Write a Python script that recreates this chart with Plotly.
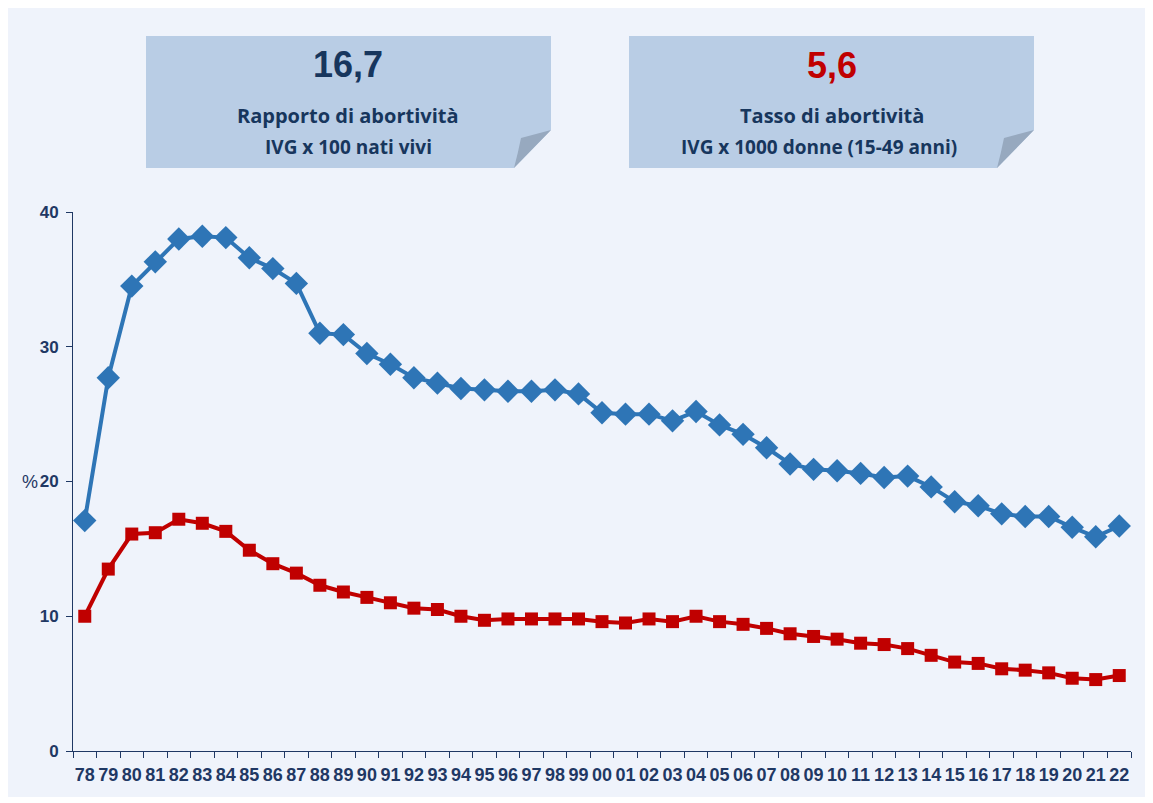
import plotly.graph_objects as go

years = ["78","79","80","81","82","83","84","85","86","87","88","89","90","91","92","93","94","95","96","97","98","99",
         "00","01","02","03","04","05","06","07","08","09","10","11","12","13","14","15","16","17","18","19","20","21","22"]
rapporto = [17.1, 27.7, 34.5, 36.3, 38.0, 38.2, 38.1, 36.6, 35.8, 34.7, 31.0, 30.9, 29.5, 28.7, 27.7, 27.3, 26.9, 26.8,
            26.7, 26.7, 26.8, 26.5, 25.1, 25.0, 25.0, 24.5, 25.2, 24.2, 23.5, 22.5, 21.3, 20.9, 20.8, 20.6, 20.3, 20.4,
            19.6, 18.5, 18.2, 17.6, 17.4, 17.4, 16.6, 15.9, 16.7]
tasso = [10.0, 13.5, 16.1, 16.2, 17.2, 16.9, 16.3, 14.9, 13.9, 13.2, 12.3, 11.8, 11.4, 11.0, 10.6, 10.5, 10.0, 9.7,
         9.8, 9.8, 9.8, 9.8, 9.6, 9.5, 9.8, 9.6, 10.0, 9.6, 9.4, 9.1, 8.7, 8.5, 8.3, 8.0, 7.9, 7.6,
         7.1, 6.6, 6.5, 6.1, 6.0, 5.8, 5.4, 5.3, 5.6]
y_ticks = [0, 10, 20, 30, 40]

NAVY = "#1F3864"
BLUE = "#2E75B6"
RED = "#C00000"
PANEL = "#EFF3FB"
BOX = "#B9CDE5"
FLAP = "#97A9BF"

OFF = 8  # page body margin
W, H = 1137, 789
L, R, T, B = 73 - OFF, 1131 - OFF, 212 - OFF, 751 - OFF

def px(x):
    return (x - OFF - L) / (R - L)

def py(y):
    return (B - (y - OFF)) / (B - T)

fig = go.Figure()
fig.add_trace(go.Scatter(x=years, y=rapporto, mode="lines+markers",
                         line=dict(color=BLUE, width=4),
                         marker=dict(symbol="diamond", size=18, color=BLUE),
                         showlegend=False, hoverinfo="x+y"))
fig.add_trace(go.Scatter(x=years, y=tasso, mode="lines+markers",
                         line=dict(color=RED, width=4),
                         marker=dict(symbol="square", size=13, color=RED),
                         showlegend=False, hoverinfo="x+y"))

shapes = []

def box(x0, x1, y0, y1):
    fold_x = 37
    fold_y = 38
    p = (f"M {px(x0)},{py(y0)} L {px(x1)},{py(y0)} L {px(x1)},{py(y1 - fold_y)} "
         f"L {px(x1 - fold_x)},{py(y1)} L {px(x0)},{py(y1)} Z")
    shapes.append(dict(type="path", xref="paper", yref="paper", path=p,
                       fillcolor=BOX, line=dict(width=0), layer="below"))
    f = (f"M {px(x1)},{py(y1 - fold_y)} L {px(x1 - 30)},{py(y1 - 30)} "
         f"Q {px(x1 - 33)},{py(y1 - 15)} {px(x1 - fold_x)},{py(y1)} Z")
    shapes.append(dict(type="path", xref="paper", yref="paper", path=f,
                       fillcolor=FLAP, line=dict(width=0), layer="below"))

box(146, 551, 36, 168)
box(629, 1034, 36, 168)

annotations = []
def txt(x, y, s, size, color, family="Liberation Sans", bold=True):
    annotations.append(dict(xref="paper", yref="paper", x=px(x), y=py(y), text=(f"<b>{s}</b>" if bold else s),
                            showarrow=False, xanchor="center", yanchor="middle",
                            font=dict(size=size, color=color, family=family)))

txt(348, 64, "16,7", 36, "#17365D")
txt(348, 115, "Rapporto di abortività", 20, "#17365D", family="Open Sans")
txt(348, 147, "IVG x 100 nati vivi", 19, "#17365D", family="Open Sans")
txt(832, 66, "5,6", 36, RED)
txt(832, 115, "Tasso di abortività", 20, "#17365D", family="Open Sans")
txt(819, 147, "IVG x 1000 donne (15-49 anni)", 19, "#17365D", family="Open Sans")

annotations.append(dict(xref="paper", yref="paper", x=px(40), y=py(482), text="%",
                        showarrow=False, xanchor="right", yanchor="middle",
                        font=dict(size=18, color=NAVY, family="Liberation Sans")))

fig.update_layout(
    width=W, height=H,
    margin=dict(l=L, r=W - R, t=T, b=H - B, pad=0),
    paper_bgcolor=PANEL,
    plot_bgcolor=PANEL,
    shapes=shapes,
    annotations=annotations,
    xaxis=dict(type="category", range=[-0.5, len(years) - 0.5], showgrid=False, zeroline=False,
               showline=True, linecolor=NAVY, linewidth=1,
               ticks="outside", tickson="boundaries", ticklen=6, tickcolor=NAVY, tickwidth=1,
               tickfont=dict(size=18, color=NAVY, family="Liberation Sans"), tickangle=0,
               ticklabelstandoff=7,
               fixedrange=True),
    yaxis=dict(range=[0, 40], tickvals=y_ticks, ticktext=[f"<b>{v}</b>" for v in y_ticks],
               showgrid=False, zeroline=False,
               showline=True, linecolor=NAVY, linewidth=1,
               ticks="outside", ticklen=6, tickcolor=NAVY, tickwidth=1,
               tickfont=dict(size=17, color=NAVY, family="Liberation Sans"),
               ticklabelstandoff=4,
               fixedrange=True),
)
fig.update_xaxes(ticktext=[f"<b>{y}</b>" for y in years], tickvals=years)

fig.write_html("out.html")
